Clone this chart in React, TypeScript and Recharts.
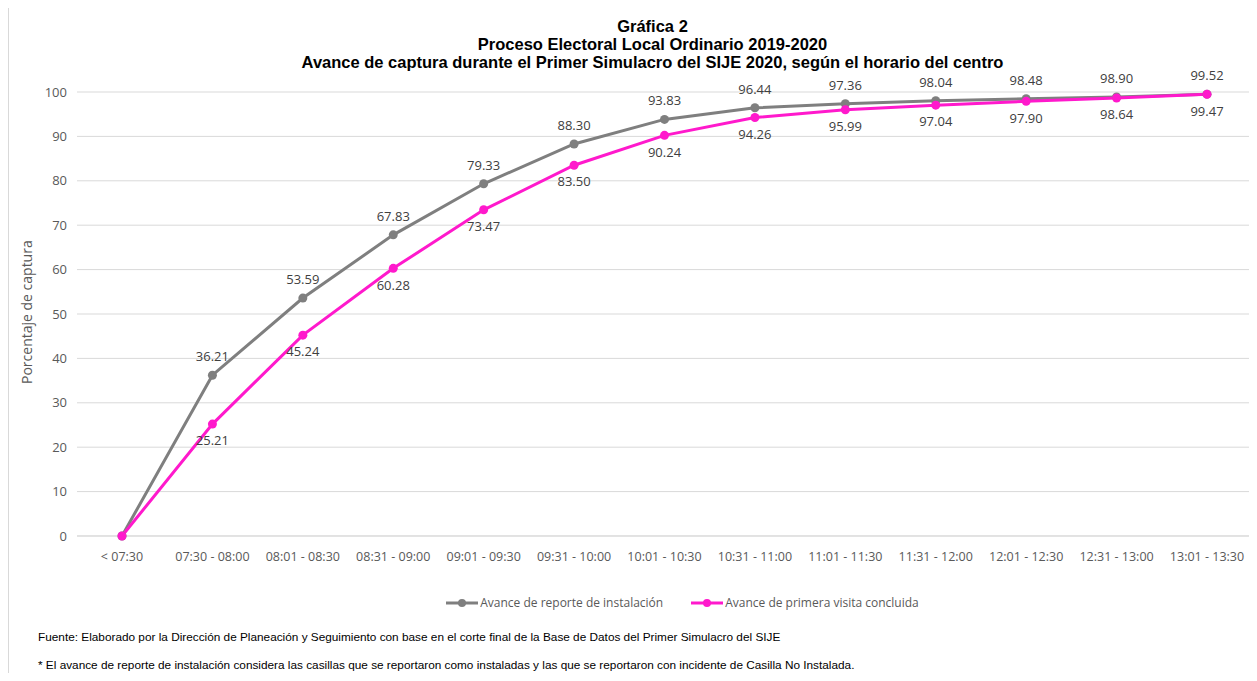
import { CartesianGrid, LabelList, Legend, Line, LineChart, XAxis, YAxis } from "recharts";

const horarios = [
  "< 07:30",
  "07:30 - 08:00",
  "08:01 - 08:30",
  "08:31 - 09:00",
  "09:01 - 09:30",
  "09:31 - 10:00",
  "10:01 - 10:30",
  "10:31 - 11:00",
  "11:01 - 11:30",
  "11:31 - 12:00",
  "12:01 - 12:30",
  "12:31 - 13:00",
  "13:01 - 13:30",
];

const instalacion = [0, 36.21, 53.59, 67.83, 79.33, 88.3, 93.83, 96.44, 97.36, 98.04, 98.48, 98.9, 99.52];
const primeraVisita = [0, 25.21, 45.24, 60.28, 73.47, 83.5, 90.24, 94.26, 95.99, 97.04, 97.9, 98.64, 99.47];
const yTicks = [0, 10, 20, 30, 40, 50, 60, 70, 80, 90, 100];

const GRAY = "#7f7f7f";
const PINK = "#ff19cc";
const TEXT = "#595959";

const data = horarios.map((h, i) => ({ h, inst: instalacion[i], visita: primeraVisita[i] }));

const fmt = (v: any) => (v === 0 ? "" : Number(v).toFixed(2));

function LegendBox() {
  const items = [
    { label: "Avance de reporte de instalación", color: GRAY },
    { label: "Avance de primera visita concluida", color: PINK },
  ];
  return (
    <div style={{ display: "flex", justifyContent: "center", gap: 28, paddingLeft: 96, paddingTop: 4, fontSize: 12, color: TEXT, fontFamily: "'Open Sans', sans-serif" }}>
      {items.map((it) => (
        <div key={it.label} style={{ display: "flex", alignItems: "center" }}>
          <svg width={32} height={10} style={{ marginRight: 2 }}>
            <line x1={0} y1={5} x2={32} y2={5} stroke={it.color} strokeWidth={3} />
            <circle cx={16} cy={5} r={4} fill={it.color} />
          </svg>
          <span>{it.label}</span>
        </div>
      ))}
    </div>
  );
}

export default function App() {
  return (
    <div style={{ position: "relative", margin: -8, width: 1257, height: 681, background: "#fff", overflow: "hidden" }}>
      <div style={{ position: "absolute", left: 8, top: 4, width: 1245, height: 700, border: "1px solid #d9d9d9" }} />
      <div
        style={{
          position: "absolute",
          top: 17,
          left: 0,
          width: 1305,
          textAlign: "center",
          fontFamily: "'Liberation Sans', Arial, sans-serif",
          fontWeight: "bold",
          fontSize: 16.5,
          lineHeight: "18px",
          color: "#000",
        }}
      >
        <div>Gráfica 2</div>
        <div>Proceso Electoral Local Ordinario 2019-2020</div>
        <div>Avance de captura durante el Primer Simulacro del SIJE 2020, según el horario del centro</div>
      </div>
      <div style={{ position: "absolute", top: 0, left: 0 }}>
        <LineChart width={1257} height={620} data={data} margin={{ top: 92, right: 5, bottom: 0, left: 17 }}>
          <CartesianGrid vertical={false} stroke="#d9d9d9" />
          <XAxis
            dataKey="h"
            interval={0}
            tickSize={0}
            tickMargin={16}
            height={54}
            padding={{ left: 45, right: 45 }}
            stroke="#d9d9d9"
            tick={{ fill: TEXT, fontSize: 12.5, fontFamily: "'Open Sans', sans-serif" }}
          />
          <YAxis
            domain={[0, 100]}
            ticks={yTicks}
            width={60}
            axisLine={false}
            tickLine={false}
            tickMargin={4}
            tick={{ fill: TEXT, fontSize: 13, fontFamily: "'Open Sans', sans-serif" }}
            label={{
              value: "Porcentaje de captura",
              angle: -90,
              position: "insideLeft",
              dx: 5,
              dy: 70,
              fill: TEXT,
              fontSize: 14,
              fontFamily: "'Open Sans', sans-serif",
            }}
          />
          <Legend verticalAlign="bottom" height={30} content={() => <LegendBox />} />
          <Line dataKey="inst" stroke={GRAY} strokeWidth={3} dot={{ r: 4.5, fill: GRAY, stroke: GRAY, strokeWidth: 0 }} isAnimationActive={false}>
            <LabelList dataKey="inst" position="top" offset={14} formatter={fmt} fill="#404040" fontSize={13} fontFamily="'Open Sans', sans-serif" />
          </Line>
          <Line dataKey="visita" stroke={PINK} strokeWidth={3} dot={{ r: 4.5, fill: PINK, stroke: PINK, strokeWidth: 0 }} isAnimationActive={false}>
            <LabelList dataKey="visita" position="bottom" offset={12} formatter={fmt} fill="#404040" fontSize={13} fontFamily="'Open Sans', sans-serif" />
          </Line>
        </LineChart>
      </div>
      <div style={{ position: "absolute", left: 38, top: 630, fontFamily: "'Liberation Sans', Arial, sans-serif", fontSize: 11.8, color: "#000" }}>
        Fuente: Elaborado por la Dirección de Planeación y Seguimiento con base en el corte final de la Base de Datos del Primer Simulacro del SIJE
      </div>
      <div style={{ position: "absolute", left: 38, top: 658, fontFamily: "'Liberation Sans', Arial, sans-serif", fontSize: 11.8, color: "#000" }}>
        * El avance de reporte de instalación considera las casillas que se reportaron como instaladas y las que se reportaron con incidente de Casilla No Instalada.
      </div>
    </div>
  );
}
